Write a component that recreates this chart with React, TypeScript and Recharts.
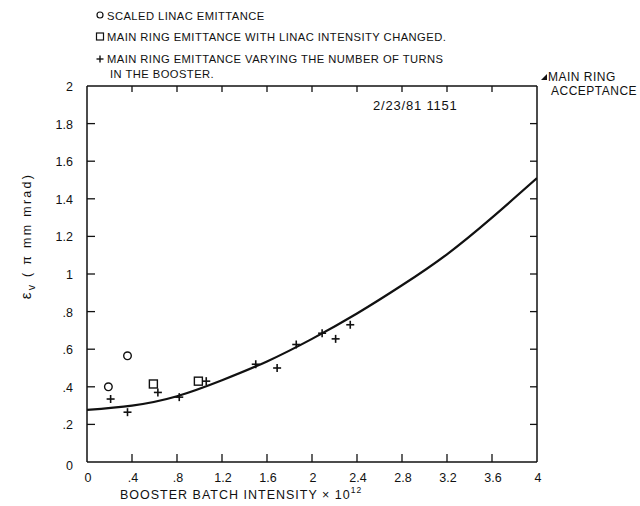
import React from 'react';
import { ComposedChart, Line, Scatter, XAxis, YAxis, Customized } from 'recharts';

const xTicks = [0, 0.4, 0.8, 1.2, 1.6, 2, 2.4, 2.8, 3.2, 3.6, 4];
const xTickLabels = ['0', '.4', '.8', '1.2', '1.6', '2', '2.4', '2.8', '3.2', '3.6', '4'];
const yTicks = [0, 0.2, 0.4, 0.6, 0.8, 1, 1.2, 1.4, 1.6, 1.8, 2];
const yTickLabels = ['0', '.2', '.4', '.6', '.8', '1', '1.2', '1.4', '1.6', '1.8', '2'];

const fitX = [0, 0.4, 0.8, 1.2, 1.6, 2.0, 2.4, 2.8, 3.2, 3.6, 4.0];
const fitY = [0.277, 0.3, 0.35, 0.435, 0.535, 0.655, 0.79, 0.94, 1.105, 1.3, 1.51];

const linacX = [0.19, 0.36];
const linacY = [0.4, 0.565];

const squareX = [0.59, 0.99];
const squareY = [0.415, 0.43];

const plusX = [0.21, 0.36, 0.63, 0.82, 1.06, 1.5, 1.69, 1.86, 2.09, 2.21, 2.34];
const plusY = [0.335, 0.265, 0.37, 0.345, 0.43, 0.52, 0.5, 0.625, 0.685, 0.655, 0.73];

const legendLabels = [
  'SCALED LINAC EMITTANCE',
  'MAIN RING EMITTANCE WITH LINAC INTENSITY CHANGED.',
  'MAIN RING EMITTANCE VARYING THE NUMBER OF TURNS',
  'IN THE BOOSTER.',
];

const FONT = '"Liberation Sans", Arial, sans-serif';
const INK = '#111';

const fitData = fitX.map((x, i) => ({ x, y: fitY[i] }));
const linacData = linacX.map((x, i) => ({ x, y: linacY[i] }));
const squareData = squareX.map((x, i) => ({ x, y: squareY[i] }));
const plusData = plusX.map((x, i) => ({ x, y: plusY[i] }));

const fmt = (list: number[], labels: string[], v: number) => {
  const i = list.findIndex((t) => Math.abs(t - v) < 1e-6);
  return i >= 0 ? labels[i] : String(v);
};

const BottomTick = (props: any) => {
  const { x, y, payload } = props;
  const v = payload.value;
  const isEnd = v === 0 || v === 4;
  return (
    <g>
      {!isEnd && <line x1={x} y1={y} x2={x} y2={y - 8} stroke={INK} strokeWidth={1.3} />}
      <text x={x + 1} y={y + 20} textAnchor="middle" fontSize={12.5} fontFamily={FONT} fill={INK}>
        {fmt(xTicks, xTickLabels, v)}
      </text>
    </g>
  );
};

const TopTick = (props: any) => {
  const { x, y, payload } = props;
  const v = payload.value;
  if (v === 0 || v === 4) return <g />;
  return <line x1={x} y1={y} x2={x} y2={y + 6} stroke={INK} strokeWidth={1.3} />;
};

const LeftTick = (props: any) => {
  const { x, y, payload } = props;
  const v = payload.value;
  const isEnd = v === 0 || v === 2;
  return (
    <g>
      {!isEnd && <line x1={x} y1={y} x2={x + 8} y2={y} stroke={INK} strokeWidth={1.3} />}
      <text x={x - 14} y={y + (v === 0 ? 8 : 5)} textAnchor="end" fontSize={12.5} fontFamily={FONT} fill={INK}>
        {fmt(yTicks, yTickLabels, v)}
      </text>
    </g>
  );
};

const RightTick = (props: any) => {
  const { x, y, payload } = props;
  const v = payload.value;
  if (v === 0 || v === 2) return <g />;
  return <line x1={x} y1={y} x2={x - 7} y2={y} stroke={INK} strokeWidth={1.3} />;
};

const CircleShape = (p: any) => (
  <circle cx={p.cx} cy={p.cy} r={3.8} fill="none" stroke={INK} strokeWidth={1.4} />
);
const SquareShape = (p: any) => (
  <rect x={p.cx - 4} y={p.cy - 4} width={8} height={8} fill="none" stroke={INK} strokeWidth={1.4} />
);
const PlusShape = (p: any) => (
  <g stroke={INK} strokeWidth={1.6}>
    <line x1={p.cx - 4} y1={p.cy} x2={p.cx + 4} y2={p.cy} />
    <line x1={p.cx} y1={p.cy - 4} x2={p.cx} y2={p.cy + 4} />
  </g>
);

const Annotations = () => (
  <g fontFamily={FONT} fill={INK}>
    <circle cx={100} cy={15} r={3} fill="none" stroke={INK} strokeWidth={1.2} />
    <text x={107} y={19.5} fontSize={11.2} letterSpacing={0.45}>{legendLabels[0]}</text>
    <rect x={96.5} y={33} width={7} height={7} fill="none" stroke={INK} strokeWidth={1.2} />
    <text x={107} y={41} fontSize={11.2} letterSpacing={0.45}>{legendLabels[1]}</text>
    <g stroke={INK} strokeWidth={1.4}>
      <line x1={96.5} y1={59} x2={103.5} y2={59} />
      <line x1={100} y1={55.5} x2={100} y2={62.5} />
    </g>
    <text x={107} y={63} fontSize={11.2} letterSpacing={0.45}>{legendLabels[2]}</text>
    <text x={110} y={78} fontSize={11.2} letterSpacing={0.45}>{legendLabels[3]}</text>

    <text x={373} y={110} fontSize={13} letterSpacing={0.8}>2/23/81  1151</text>

    <path d="M541,80 L547,74 L547,80 Z" fill={INK} />
    <text x={548} y={81} fontSize={12} letterSpacing={0.5}>MAIN RING</text>
    <text x={551} y={95} fontSize={12} letterSpacing={0.5}>ACCEPTANCE</text>

    <text
      transform="rotate(-90, 31, 236)"
      x={31}
      y={236}
      textAnchor="middle"
      fontSize={12.5}
      letterSpacing={2.3}
    >
      <tspan fontSize={15}>ε</tspan>
      <tspan dy={4} fontSize={10.5}>v</tspan>
      <tspan dy={-4}>{' ( π mm  mrad)'}</tspan>
    </text>

    <text x={120} y={499} fontSize={12.5} letterSpacing={1}>
      BOOSTER BATCH INTENSITY × 10
      <tspan dy={-6} fontSize={8.5}>12</tspan>
    </text>
  </g>
);

export default function App() {
  return (
    <div style={{ position: 'absolute', left: 0, top: 0, width: 640, height: 506, background: '#fff' }}>
      <ComposedChart
        width={640}
        height={506}
        margin={{ top: 85, right: 102, bottom: 14, left: 0 }}
      >
        <XAxis
          xAxisId="bottom"
          dataKey="x"
          type="number"
          domain={[0, 4]}
          ticks={xTicks}
          orientation="bottom"
          height={30}
          tickSize={0}
          tickMargin={0}
          tickLine={false}
          axisLine={{ stroke: INK, strokeWidth: 1.5 }}
          tick={<BottomTick />}
          interval={0}
          allowDataOverflow
        />
        <XAxis
          xAxisId="top"
          dataKey="x"
          type="number"
          domain={[0, 4]}
          ticks={xTicks}
          orientation="top"
          height={1}
          tickSize={0}
          tickMargin={0}
          tickLine={false}
          axisLine={{ stroke: INK, strokeWidth: 1.5 }}
          tick={<TopTick />}
          interval={0}
          allowDataOverflow
        />
        <YAxis
          yAxisId="left"
          type="number"
          domain={[0, 2]}
          ticks={yTicks}
          orientation="left"
          width={87}
          tickSize={0}
          tickMargin={0}
          tickLine={false}
          axisLine={{ stroke: INK, strokeWidth: 1.5 }}
          tick={<LeftTick />}
          interval={0}
          allowDataOverflow
        />
        <YAxis
          yAxisId="right"
          type="number"
          domain={[0, 2]}
          ticks={yTicks}
          orientation="right"
          width={1}
          tickSize={0}
          tickMargin={0}
          tickLine={false}
          axisLine={{ stroke: INK, strokeWidth: 1.5 }}
          tick={<RightTick />}
          interval={0}
          allowDataOverflow
        />
        <Line
          xAxisId="bottom"
          yAxisId="left"
          data={fitData}
          dataKey="y"
          type="natural"
          stroke={INK}
          strokeWidth={2.2}
          dot={false}
          activeDot={false}
          isAnimationActive={false}
        />
        <Scatter xAxisId="top" yAxisId="right" data={linacData} dataKey="y" shape={<CircleShape />} isAnimationActive={false} />
        <Scatter xAxisId="bottom" yAxisId="left" data={squareData} dataKey="y" shape={<SquareShape />} isAnimationActive={false} />
        <Scatter xAxisId="bottom" yAxisId="left" data={plusData} dataKey="y" shape={<PlusShape />} isAnimationActive={false} />
        <Customized component={Annotations} />
      </ComposedChart>
    </div>
  );
}
